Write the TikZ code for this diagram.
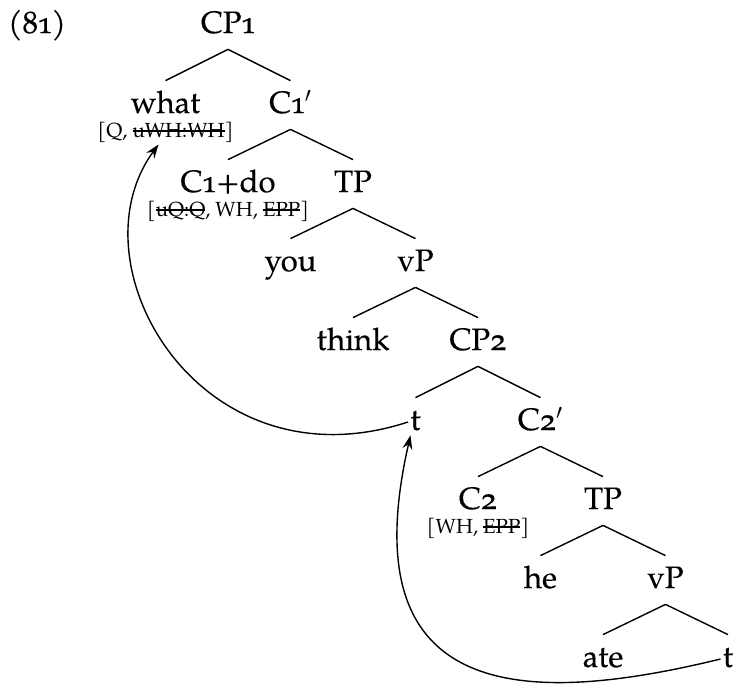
\documentclass[tikz,border=0pt]{standalone}
\usepackage{fontspec}
\setmainfont{TeX Gyre Pagella}[Numbers=OldStyle]
\newfontfamily\treefont{TeX Gyre Pagella}[Numbers=OldStyle,FakeBold=0.3]
\newsavebox\strkbox
\newcommand\strk[1]{\sbox\strkbox{#1}\rlap{\rule[0.26em]{\wd\strkbox}{0.65pt}}\usebox\strkbox}
\usetikzlibrary{arrows.meta,calc}
\tikzset{
  tn/.style={anchor=base, font=\treefont\fontsize{15.5}{17}\selectfont, text height=11pt, text depth=3pt, inner ysep=5pt, inner xsep=1pt},
  feat/.style={anchor=base, font=\fontsize{10.2}{12}\selectfont, inner sep=1pt},
  br/.style={line width=0.7pt},
  mv/.style={line width=0.7pt, -{Stealth[length=7pt,width=5pt,inset=2.5pt]}}
}
\begin{document}
\begin{tikzpicture}[x=0.5pt,y=-0.5pt]
\useasboundingbox (0,0) rectangle (734,686);
\node[tn] (ex) at (37,33) {(81)};
\node[tn] (cp1) at (228,33) {CP1};
\node[tn] (what) at (165.5,113) {what};
\node[feat] (whatf) at (165.5,137) {[Q, \strk{uWH:WH}]};
\node[tn] (c1bar) at (290.5,113) {C1$'$};
\node[tn] (c1) at (228,192) {C1+do};
\node[feat] (c1f) at (228,216) {[\strk{uQ:Q}, WH, \strk{EPP}]};
\node[tn] (tp1) at (353,192) {TP};
\node[tn] (you) at (290.5,271) {you};
\node[tn] (vp1) at (415.5,271) {vP};
\node[tn] (think) at (353,350) {think};
\node[tn] (cp2) at (478,350) {CP2};
\node[tn] (t1) at (415.5,430) {t};
\node[tn] (c2bar) at (540.5,430) {C2$'$};
\node[tn] (c2) at (478,509) {C2};
\node[feat] (c2f) at (478,533) {[WH, \strk{EPP}]};
\node[tn] (tp2) at (603,509) {TP};
\node[tn] (he) at (540.5,588) {he};
\node[tn] (vp2) at (665.5,588) {vP};
\node[tn] (ate) at (603,667) {ate};
\node[tn] (t2) at (728,667) {t};
\foreach \p/\c in {cp1/what,cp1/c1bar,c1bar/c1,c1bar/tp1,tp1/you,tp1/vp1,vp1/think,vp1/cp2,cp2/t1,cp2/c2bar,c2bar/c2,c2bar/tp2,tp2/he,tp2/vp2,vp2/ate,vp2/t2}
  \draw[br] (\p.south) -- (\c.north);
\draw[mv] (t2.west) .. controls (520,708) and (350,700) .. ($(t1.south)+(-5,-11)$);
\draw[mv] (t1.west) .. controls (200,490) and (70,265) .. ($(whatf.south)+(-7,0)$);
\end{tikzpicture}
\end{document}
